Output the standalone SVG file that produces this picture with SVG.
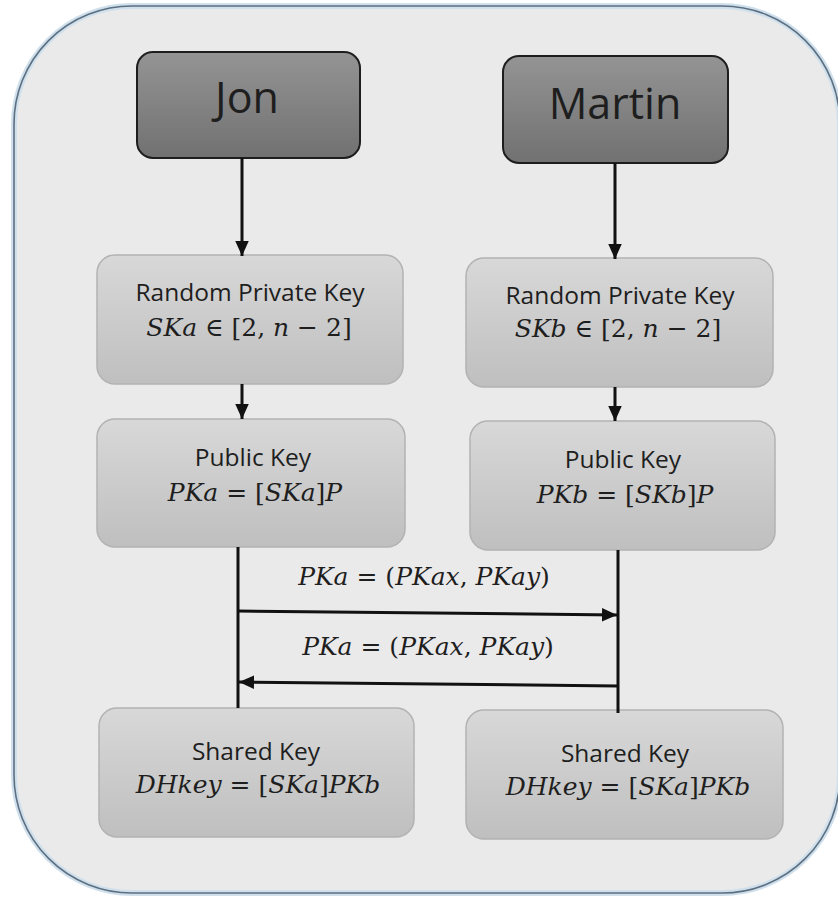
<svg xmlns="http://www.w3.org/2000/svg" width="838" height="897" viewBox="0 0 838 897">
  <defs>
    <linearGradient id="gradDark" x1="0" y1="0" x2="0" y2="1">
      <stop offset="0" stop-color="#949494"/>
      <stop offset="1" stop-color="#717171"/>
    </linearGradient>
    <linearGradient id="gradLight" x1="0" y1="0" x2="0" y2="1">
      <stop offset="0" stop-color="#d8d8d8"/>
      <stop offset="1" stop-color="#bfbfbf"/>
    </linearGradient>
    <marker id="arrow" viewBox="0 0 10 10" refX="10" refY="5" markerWidth="15" markerHeight="15" markerUnits="userSpaceOnUse" orient="auto">
      <path d="M0,0.5 L10,5 L0,9.5 z" fill="#111"/>
    </marker>
    <style>
      .party { fill: url(#gradDark); stroke: #1e1e1e; stroke-width: 2; }
      .step { fill: url(#gradLight); stroke: #b2b2b2; stroke-width: 1.5; }
      .name { font-family: "Open Sans", "Liberation Sans", sans-serif; font-size: 43px; fill: #1e1e1e; text-anchor: middle; }
      .label { font-family: "Open Sans", "Liberation Sans", sans-serif; font-size: 24.5px; fill: #1e1e1e; text-anchor: middle; }
      .math { font-family: "DejaVu Serif", "Liberation Serif", serif; font-size: 25px; fill: #1e1e1e; text-anchor: middle; }
      .math tspan.v { font-style: italic; }
      .link { stroke: #111; stroke-width: 3; fill: none; }
    </style>
  </defs>

  <!-- background panel -->
  <rect x="0" y="0" width="838" height="897" fill="#ffffff"/>
  <rect id="panel" x="14" y="6" width="826" height="887" rx="118" ry="118" fill="#ebeaeb" stroke="#cfe0ec" stroke-width="6"/>
  <rect x="14" y="6" width="826" height="887" rx="118" ry="118" fill="none" stroke="#5d6f80" stroke-width="1.6"/>

  <!-- parties -->
  <g id="jon">
    <rect class="party" x="137" y="52" width="223" height="106" rx="16"/>
    <text class="name" x="247" y="113">Jon</text>
  </g>
  <g id="martin">
    <rect class="party" x="503" y="56" width="225" height="107" rx="16"/>
    <text class="name" x="615" y="119">Martin</text>
  </g>

  <!-- private keys -->
  <g id="private-key-a">
    <rect class="step" x="97" y="255" width="306" height="129" rx="18"/>
    <text class="label" x="250" y="301">Random Private Key</text>
    <text class="math" x="249" y="336"><tspan class="v">SKa</tspan> ∈ [2, <tspan class="v">n</tspan> − 2]</text>
  </g>
  <g id="private-key-b">
    <rect class="step" x="466" y="258" width="307" height="129" rx="18"/>
    <text class="label" x="620" y="304">Random Private Key</text>
    <text class="math" x="618" y="337"><tspan class="v">SKb</tspan> ∈ [2, <tspan class="v">n</tspan> − 2]</text>
  </g>

  <!-- public keys -->
  <g id="public-key-a">
    <rect class="step" x="97" y="419" width="308" height="128" rx="18"/>
    <text class="label" x="253" y="466">Public Key</text>
    <text class="math" x="255" y="501"><tspan class="v">PKa</tspan> = [<tspan class="v">SKa</tspan>]<tspan class="v">P</tspan></text>
  </g>
  <g id="public-key-b">
    <rect class="step" x="470" y="421" width="305" height="129" rx="18"/>
    <text class="label" x="623" y="468">Public Key</text>
    <text class="math" x="625" y="503"><tspan class="v">PKb</tspan> = [<tspan class="v">SKb</tspan>]<tspan class="v">P</tspan></text>
  </g>

  <!-- shared keys -->
  <g id="shared-key-a">
    <rect class="step" x="99" y="708" width="315" height="129" rx="18"/>
    <text class="label" x="256" y="760">Shared Key</text>
    <text class="math" x="258" y="793"><tspan class="v">DHkey</tspan> = [<tspan class="v">SKa</tspan>]<tspan class="v">PKb</tspan></text>
  </g>
  <g id="shared-key-b">
    <rect class="step" x="466" y="710" width="317" height="129" rx="18"/>
    <text class="label" x="625" y="762">Shared Key</text>
    <text class="math" x="628" y="795"><tspan class="v">DHkey</tspan> = [<tspan class="v">SKa</tspan>]<tspan class="v">PKb</tspan></text>
  </g>

  <!-- connectors -->
  <g id="connectors">
    <line class="link" x1="242" y1="158" x2="242" y2="256" marker-end="url(#arrow)"/>
    <line class="link" x1="615" y1="163" x2="615" y2="259" marker-end="url(#arrow)"/>
    <line class="link" x1="242" y1="384" x2="242" y2="419" marker-end="url(#arrow)"/>
    <line class="link" x1="615" y1="387" x2="615" y2="421" marker-end="url(#arrow)"/>
    <line class="link" x1="238" y1="547" x2="238" y2="708"/>
    <line class="link" x1="618" y1="550" x2="618" y2="713"/>
    <line class="link" x1="238" y1="611" x2="617" y2="615" marker-end="url(#arrow)"/>
    <line class="link" x1="618" y1="686" x2="239" y2="682" marker-end="url(#arrow)"/>
  </g>

  <!-- exchange labels -->
  <g id="exchange-labels">
    <text class="math" x="424" y="585"><tspan class="v">PKa</tspan> = (<tspan class="v">PKax</tspan>, <tspan class="v">PKay</tspan>)</text>
    <text class="math" x="428" y="655"><tspan class="v">PKa</tspan> = (<tspan class="v">PKax</tspan>, <tspan class="v">PKay</tspan>)</text>
  </g>
</svg>
